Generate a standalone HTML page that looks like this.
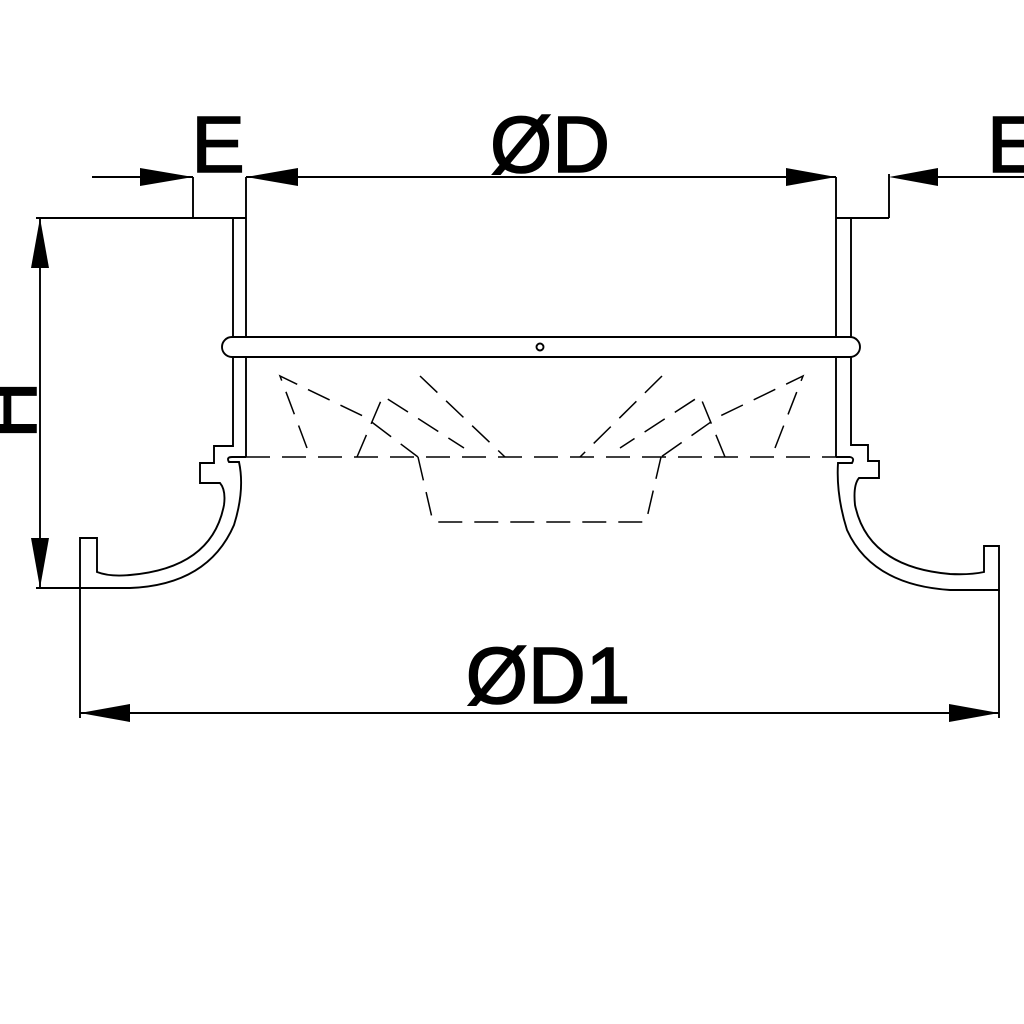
<!DOCTYPE html>
<html><head><meta charset="utf-8"><style>
html,body{margin:0;padding:0;background:#fff;}
svg{display:block;}
text{font-family:"Liberation Sans",sans-serif;fill:#000;stroke:#000;stroke-width:1.6;}
</style></head><body>
<svg width="1024" height="1024" viewBox="0 0 1024 1024" xmlns="http://www.w3.org/2000/svg">
<rect width="1024" height="1024" fill="#fff"/>
<g stroke="#000" stroke-width="1.9" fill="none">
<line x1="92" y1="177" x2="193" y2="177"/>
<line x1="246" y1="177" x2="836" y2="177"/>
<line x1="938" y1="177" x2="1024" y2="177"/>
<line x1="193" y1="177" x2="193" y2="218"/>
<line x1="246" y1="177" x2="246" y2="218"/>
<line x1="836" y1="177" x2="836" y2="218"/>
<line x1="889" y1="174" x2="889" y2="218"/>
<line x1="36" y1="218" x2="246" y2="218"/>
<line x1="836" y1="218" x2="889" y2="218"/>
<line x1="233" y1="218" x2="233" y2="337"/>
<line x1="246" y1="218" x2="246" y2="337"/>
<line x1="836" y1="218" x2="836" y2="337"/>
<line x1="851" y1="218" x2="851" y2="337"/>
<line x1="246" y1="357" x2="246" y2="457"/>
<line x1="836" y1="357" x2="836" y2="457"/>
<path d="M232 337 L850 337 A10 10 0 0 1 850 357 L232 357 A10 10 0 0 1 232 337 Z"/>
<circle cx="540" cy="347" r="3.5"/>
<path d="M233 357 L233 446 L214 446 L214 463 L200 463 L200 483 L220 483 Q226 490 224 505 Q212 568 130 575 Q110 577 97 572 L97 538 L80 538 L80 588 L130 588 Q208 585 234 525 Q245 490 239 462 L229 462 Q226 457 232 457 L246 457"/>
<path d="M851 357 L851 445 L868 445 L868 461 L879 461 L879 478 L859 478 Q853 485 855 505 Q868 567 950 574 Q970 575 984 572 L984 546 L999 546 L999 590 L950 590 Q872 585 847 530 Q836 495 838 463 L852 463 Q855 458 850 457 L836 457"/>
<line x1="40" y1="218" x2="40" y2="588"/>
<line x1="36" y1="588" x2="80" y2="588"/>
<line x1="80" y1="588" x2="80" y2="718"/>
<line x1="999" y1="590" x2="999" y2="718"/>
<line x1="80" y1="713" x2="999" y2="713"/>
</g>
<g stroke="#000" stroke-width="1.5" fill="none" stroke-dasharray="24 12">
<line x1="246" y1="457" x2="836" y2="457"/>
<polyline points="418,457 433,522 646,522 661,457"/>
<polyline points="307,448 280,376 365,417 418,457"/>
<polyline points="357,457 383,396 464,448"/>
<line x1="420" y1="376" x2="505" y2="457"/>
<polyline points="775,448 803,376 718,417 661,457"/>
<polyline points="725,457 700,396 620,448"/>
<line x1="662" y1="376" x2="580" y2="457"/>
</g>
<g fill="#000">
<polygon points="193,177 140,168 140,186"/>
<polygon points="246,177 298,168 298,186"/>
<polygon points="836,177 786,168 786,186"/>
<polygon points="889,177 938,168 938,186"/>
<polygon points="40,218 31,268 49,268"/>
<polygon points="40,588 31,538 49,538"/>
<polygon points="80,713 130,704 130,722"/>
<polygon points="999,713 949,704 949,722"/>
</g>
<text x="218" y="172" font-size="80" text-anchor="middle">E</text>
<text x="550" y="172" font-size="80" text-anchor="middle">ØD</text>
<text x="987" y="172" font-size="80">E</text>
<text x="548" y="703" font-size="80" text-anchor="middle">ØD1</text>
<text transform="translate(36,410) rotate(-90)" font-size="80" text-anchor="middle">H</text>
</svg>
</body></html>
